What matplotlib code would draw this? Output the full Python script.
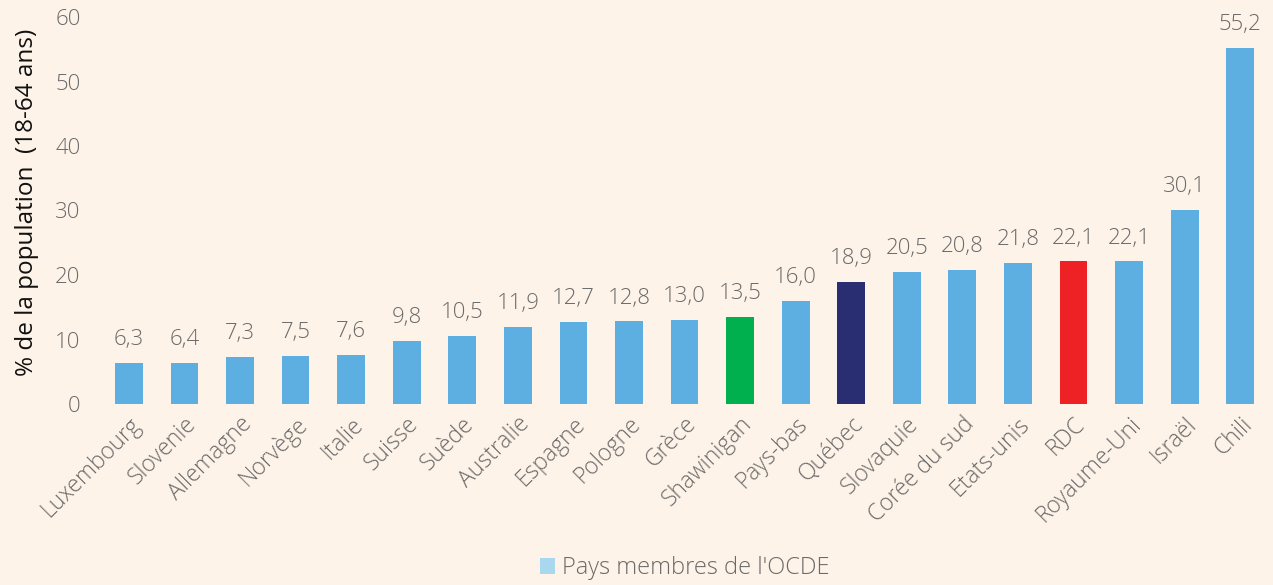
import matplotlib
matplotlib.use("Agg")
import matplotlib.pyplot as plt
from matplotlib.patches import Patch

categories = ["Luxembourg", "Slovenie", "Allemagne", "Norvège", "Italie", "Suisse", "Suède",
              "Australie", "Espagne", "Pologne", "Grèce", "Shawinigan", "Pays-bas", "Québec",
              "Slovaquie", "Corée du sud", "Etats-unis", "RDC", "Royaume-Uni", "Israël", "Chili"]
values = [6.3, 6.4, 7.3, 7.5, 7.6, 9.8, 10.5, 11.9, 12.7, 12.8, 13.0, 13.5, 16.0, 18.9,
          20.5, 20.8, 21.8, 22.1, 22.1, 30.1, 55.2]
value_labels = ["6,3", "6,4", "7,3", "7,5", "7,6", "9,8", "10,5", "11,9", "12,7", "12,8", "13,0",
                "13,5", "16,0", "18,9", "20,5", "20,8", "21,8", "22,1", "22,1", "30,1", "55,2"]
highlight = {"Shawinigan": "#00B04F", "Québec": "#292E73", "RDC": "#EE2124"}
yticks = [0, 10, 20, 30, 40, 50, 60]

bg = "#FEF3E8"
base = "#5DAFE1"
txt = "#6A6A6A"
fs = 16
fw = 'light'

plt.rcParams['font.family'] = ['Open Sans', 'DejaVu Sans']

fig = plt.figure(figsize=(12.73, 5.85), dpi=100, facecolor=bg)
ax = fig.add_axes([100/1273, 1-404/585, 1-100/1273, (404-17)/585])
ax.set_facecolor(bg)

colors = [highlight.get(c, base) for c in categories]
x = list(range(len(categories)))
ax.bar(x, values, width=0.5, color=colors)
for xi, v, lab in zip(x, values, value_labels):
    ax.text(xi, v + 2.0, lab, ha='center', va='bottom', fontsize=fs, color=txt, fontweight=fw)

ax.set_ylim(0, 60)
n = len(categories)
ax.set_xlim(-0.52, n - 1 + 0.59)
ax.set_yticks(yticks)
ax.set_yticklabels([str(t) for t in yticks], fontsize=fs, color=txt, fontweight=fw)
ax.set_xticks(x)
ax.set_xticklabels(categories, rotation=45, ha='right', rotation_mode='anchor',
                   fontsize=16.5, color=txt, fontweight=fw)
ax.tick_params(axis='both', length=0)
ax.tick_params(axis='y', pad=14)
ax.tick_params(axis='x', pad=6)
for s in ax.spines.values():
    s.set_visible(False)
ax.set_ylabel("% de la population  (18-64 ans)", fontsize=17.5, color="#111111",
              fontweight='medium')
ax.yaxis.set_label_coords(-0.052, 0.52)

fig.legend(handles=[Patch(facecolor="#A9D8EE", label="Pays membres de l'OCDE")],
           loc='center', bbox_to_anchor=(0.538, 1-568/585), frameon=False,
           labelcolor=txt, handlelength=0.65, handleheight=0.65, handletextpad=0.3,
           prop={'size': 17, 'weight': fw})

fig.savefig("out.png", dpi=100, facecolor=bg)
